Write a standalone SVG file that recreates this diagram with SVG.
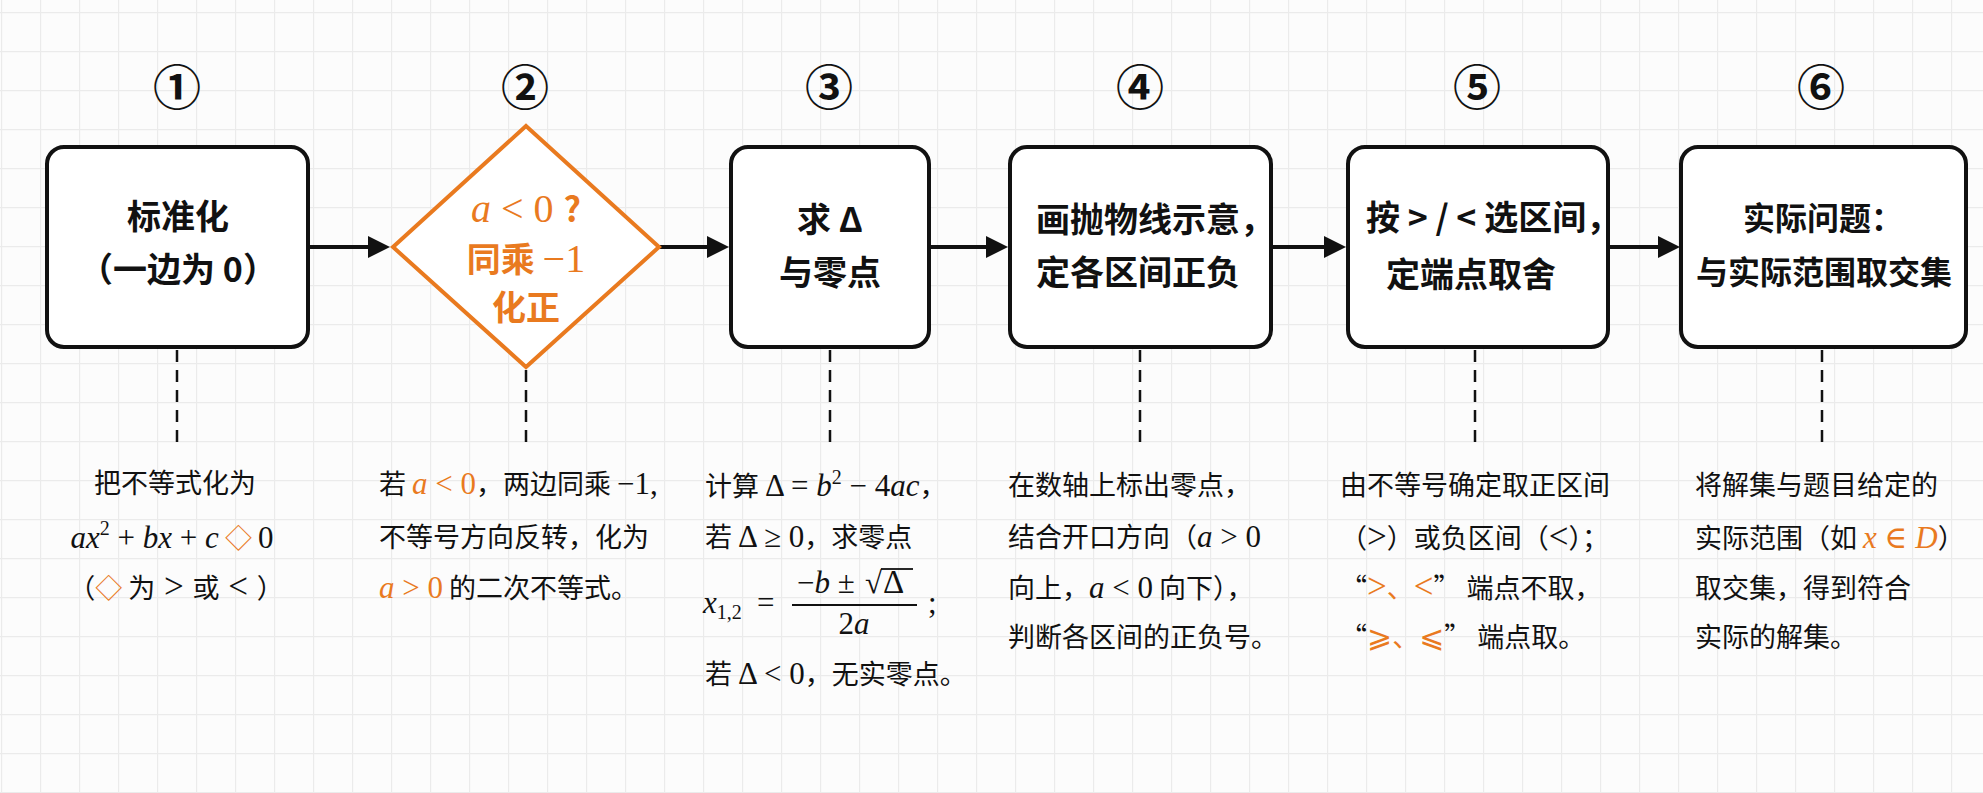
<svg xmlns="http://www.w3.org/2000/svg" width="1983" height="793" viewBox="0 0 1983 793">
<defs>
<pattern id="grid" x="1" y="12" width="39" height="39" patternUnits="userSpaceOnUse">
<path d="M0 0.5H39M0.5 0V39" stroke="#ebebeb" stroke-width="1.3" fill="none"/>
</pattern>
<style>
.box{fill:#fff;stroke:#111;stroke-width:4}
.dia{fill:#fff;stroke:#E97A1F;stroke-width:4}
.ln{stroke:#111;stroke-width:4;fill:none}
.ah{fill:#111}
.dash{stroke:#111;stroke-width:2.5;stroke-dasharray:12 8;fill:none}
.num{font-family:"Noto Sans CJK SC",sans-serif;font-weight:700;font-size:48px;fill:#111;text-anchor:middle}
.lbl{font-family:"Noto Sans CJK SC",sans-serif;font-weight:700;font-size:34px;fill:#111}
.dsc{font-family:"Noto Sans CJK SC",sans-serif;font-size:27px;fill:#111}
.m{font-family:"Liberation Serif","DejaVu Serif",serif;font-size:31px}
.mi{font-family:"Liberation Serif","DejaVu Serif",serif;font-style:italic;font-size:31px}
.rel{font-family:"Liberation Serif","DejaVu Serif",serif;font-size:35px}
.lbl .m,.lbl .mi{font-size:40px;font-weight:400}
.o{fill:#E97A1F}
.mid{text-anchor:middle}
</style>
</defs>
<rect width="1983" height="793" fill="#fcfcfc"/>
<rect width="1983" height="793" fill="url(#grid)"/>

<g id="connectors">
<line class="ln" x1="308" y1="247" x2="372" y2="247"/><path class="ah" d="M368 236L390 247L368 258Z"/>
<line class="ln" x1="658" y1="247" x2="711" y2="247"/><path class="ah" d="M707 236L729 247L707 258Z"/>
<line class="ln" x1="929" y1="247" x2="990" y2="247"/><path class="ah" d="M986 236L1008 247L986 258Z"/>
<line class="ln" x1="1271" y1="247" x2="1328" y2="247"/><path class="ah" d="M1324 236L1346 247L1324 258Z"/>
<line class="ln" x1="1608" y1="247" x2="1662" y2="247"/><path class="ah" d="M1658 236L1680 247L1658 258Z"/>
<line class="dash" x1="177" y1="350" x2="177" y2="442"/>
<line class="dash" x1="526" y1="370" x2="526" y2="442"/>
<line class="dash" x1="830" y1="350" x2="830" y2="442"/>
<line class="dash" x1="1140" y1="350" x2="1140" y2="442"/>
<line class="dash" x1="1475" y1="350" x2="1475" y2="442"/>
<line class="dash" x1="1822" y1="350" x2="1822" y2="442"/>
</g>

<g id="step1">
<text class="num" x="177" y="105">①</text>
<rect class="box" x="47" y="147" width="261" height="200" rx="17"/>
<text class="lbl mid" x="178" y="229">标准化</text>
<text class="lbl mid" x="178" y="282">（一边为 0）</text>
<text class="dsc mid" x="175" y="493">把不等式化为</text>
<text class="dsc mid" x="172" y="548"><tspan class="mi">ax</tspan><tspan class="m" dy="-13" style="font-size:20px">2</tspan><tspan class="m" dy="13"> + </tspan><tspan class="mi">bx</tspan><tspan class="m"> + </tspan><tspan class="mi">c</tspan> <tspan class="o">◇</tspan> <tspan class="m">0</tspan></text>
<text class="dsc mid" x="176" y="598">（<tspan class="o">◇</tspan> 为<tspan class="rel">&#160;&gt;&#160;</tspan>或<tspan class="rel">&#160;&lt;&#160;</tspan>）</text>
</g>

<g id="step2">
<text class="num" x="525" y="105">②</text>
<path class="dia" d="M526 126L659 247L526 367L393 247Z"/>
<text class="lbl mid o" x="526" y="222"><tspan class="mi">a</tspan><tspan class="m"> &lt; 0 </tspan>?</text>
<text class="lbl mid o" x="526" y="272">同乘 <tspan class="m">−1</tspan></text>
<text class="lbl mid o" x="526" y="320">化正</text>
<text class="dsc" x="379" y="494">若 <tspan class="mi o">a</tspan><tspan class="m o"> &lt; 0</tspan>，两边同乘 <tspan class="m">−1,</tspan></text>
<text class="dsc" x="379" y="547">不等号方向反转，化为</text>
<text class="dsc" x="379" y="598"><tspan class="mi o">a</tspan><tspan class="m o"> &gt; 0</tspan> 的二次不等式。</text>
</g>

<g id="step3">
<text class="num" x="829" y="105">③</text>
<rect class="box" x="731" y="147" width="198" height="200" rx="17"/>
<text class="lbl mid" x="830" y="232">求 Δ</text>
<text class="lbl mid" x="830" y="285">与零点</text>
<text class="dsc" x="705" y="496">计算 <tspan class="m">Δ = </tspan><tspan class="mi">b</tspan><tspan class="m" dy="-12" style="font-size:20px">2</tspan><tspan class="m" dy="12"> − 4</tspan><tspan class="mi">ac</tspan>，</text>
<text class="dsc" x="705" y="547">若 <tspan class="m">Δ ≥ 0</tspan>，求零点</text>
<text class="dsc" x="703" y="613"><tspan class="mi">x</tspan><tspan class="m" dy="6" style="font-size:20px">1,2</tspan><tspan class="m" dy="-6" x="757">=</tspan></text>
<line x1="792" y1="605" x2="917" y2="605" stroke="#111" stroke-width="2"/>
<text class="dsc" x="797" y="593"><tspan class="m">−</tspan><tspan class="mi">b</tspan><tspan class="m"> ±</tspan><tspan class="m" x="865">√</tspan><tspan class="m" x="883" style="font-size:33px">Δ</tspan></text>
<line x1="881" y1="569" x2="913" y2="569" stroke="#111" stroke-width="1.8"/>
<text class="dsc mid" x="854" y="634"><tspan class="m">2</tspan><tspan class="mi">a</tspan></text>
<text class="dsc" x="928" y="613"><tspan class="m">;</tspan></text>
<text class="dsc" x="705" y="684">若 <tspan class="m">Δ &lt; 0</tspan>，无实零点。</text>
</g>

<g id="step4">
<text class="num" x="1140" y="105">④</text>
<rect class="box" x="1010" y="147" width="261" height="200" rx="17"/>
<text class="lbl" x="1036" y="232">画抛物线示意，</text>
<text class="lbl" x="1036" y="285">定各区间正负</text>
<text class="dsc" x="1008" y="495">在数轴上标出零点，</text>
<text class="dsc" x="1008" y="547">结合开口方向（<tspan class="mi">a</tspan><tspan class="m"> &gt; 0</tspan></text>
<text class="dsc" x="1008" y="598">向上，<tspan class="mi">a</tspan><tspan class="m"> &lt; 0</tspan> 向下），</text>
<text class="dsc" x="1008" y="647">判断各区间的正负号。</text>
</g>

<g id="step5">
<text class="num" x="1477" y="105">⑤</text>
<rect class="box" x="1348" y="147" width="260" height="200" rx="17"/>
<text class="lbl" x="1366" y="230">按 &gt; / &lt; 选区间，</text>
<text class="lbl" x="1386" y="287">定端点取舍</text>
<text class="dsc" x="1340" y="495">由不等号确定取正区间</text>
<text class="dsc" x="1340" y="548">（<tspan class="rel">&gt;</tspan>）或负区间（<tspan class="rel">&lt;</tspan>）；</text>
<text class="dsc" x="1340" y="598">“<tspan class="rel o">&gt;</tspan><tspan class="o">、</tspan><tspan class="rel o">&lt;</tspan>” 端点不取，</text>
<text class="dsc" x="1340" y="647">“<tspan class="o" style="font-family:'DejaVu Sans',sans-serif;font-size:30px">⩾</tspan><tspan class="o">、</tspan><tspan class="o" style="font-family:'DejaVu Sans',sans-serif;font-size:30px">⩽</tspan>” 端点取。</text>
</g>

<g id="step6">
<text class="num" x="1821" y="105">⑥</text>
<rect class="box" x="1681" y="147" width="285" height="200" rx="17"/>
<text class="lbl mid" x="1823" y="230" style="font-size:32px">实际问题：</text>
<text class="lbl mid" x="1824" y="284" style="font-size:32px">与实际范围取交集</text>
<text class="dsc" x="1695" y="495">将解集与题目给定的</text>
<text class="dsc" x="1695" y="548">实际范围（如 <tspan class="mi o">x</tspan><tspan class="m o"> ∈ </tspan><tspan class="mi o">D</tspan>）</text>
<text class="dsc" x="1695" y="598">取交集，得到符合</text>
<text class="dsc" x="1695" y="647">实际的解集。</text>
</g>
</svg>
